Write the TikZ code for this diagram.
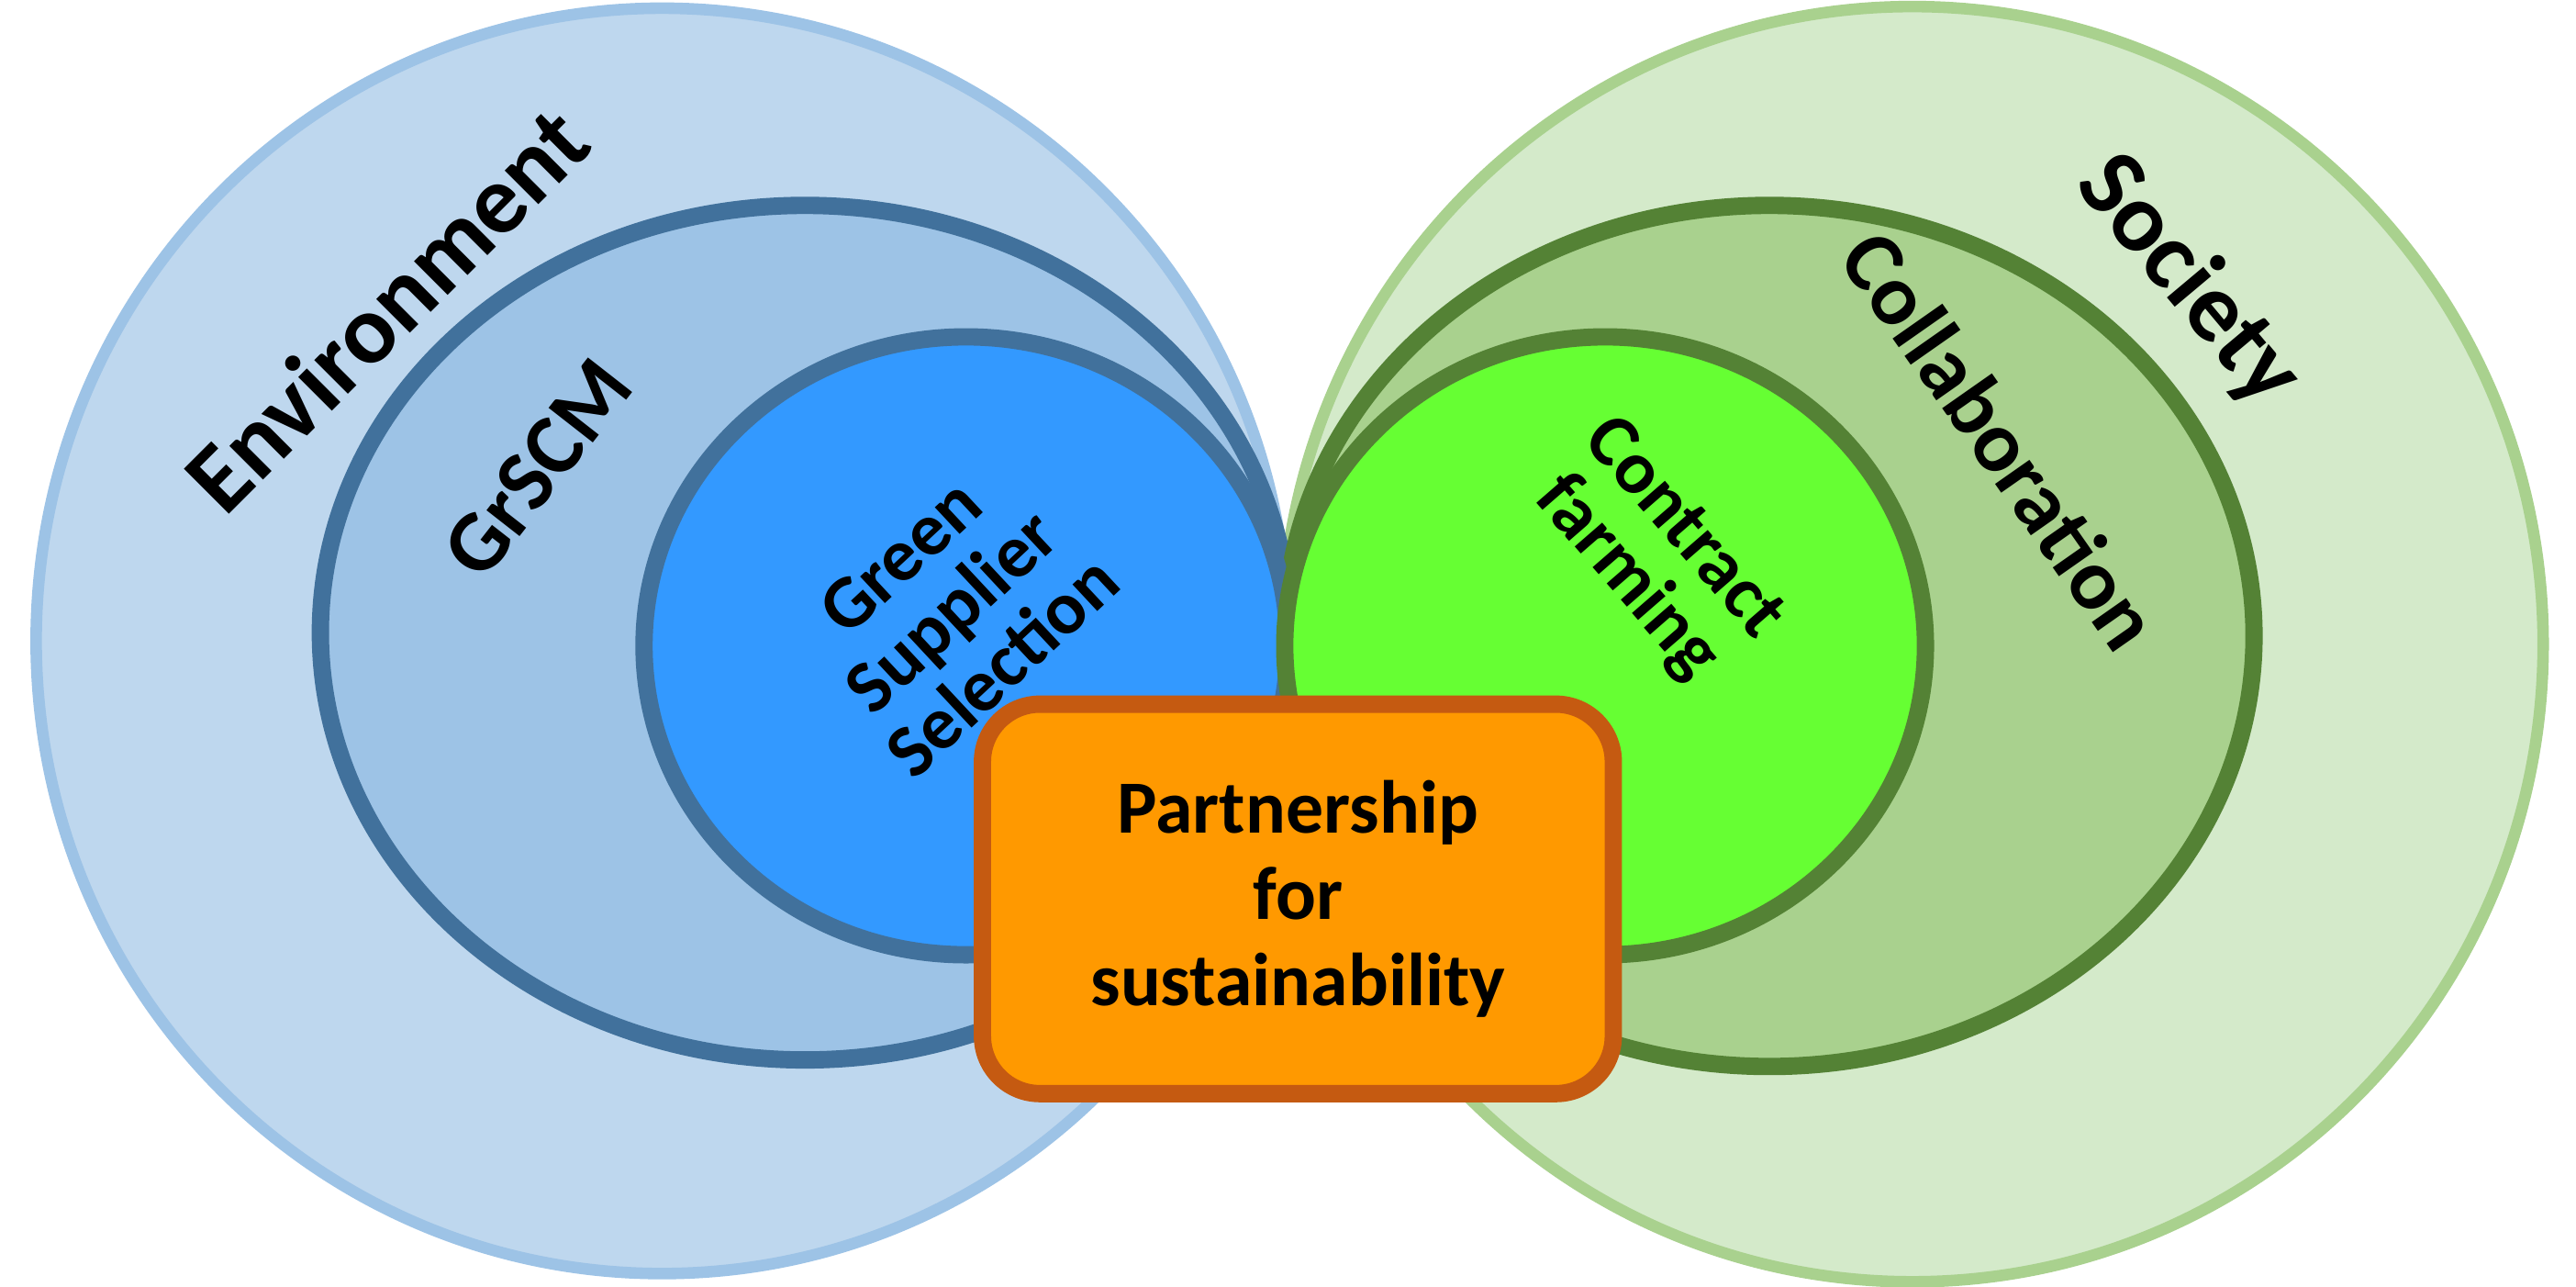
\documentclass[tikz,border=0pt]{standalone}
\usepackage{fontspec}
\setmainfont{Carlito}
\usetikzlibrary{shapes.geometric}
\definecolor{envfill}{RGB}{190,215,238}
\definecolor{envline}{RGB}{157,195,230}
\definecolor{scmfill}{RGB}{157,195,230}
\definecolor{blueline}{RGB}{65,113,156}
\definecolor{gssfill}{RGB}{51,153,255}
\definecolor{socfill}{RGB}{212,234,202}
\definecolor{socline}{RGB}{169,209,142}
\definecolor{colfill}{RGB}{169,209,142}
\definecolor{greenline}{RGB}{84,130,53}
\definecolor{cffill}{RGB}{102,255,51}
\definecolor{orfill}{RGB}{255,153,0}
\definecolor{orline}{RGB}{197,90,17}
\tikzset{
    ring/.style={ellipse, inner sep=0pt},
    label text/.style={font=\bfseries\fontsize{#1}{#1}\selectfont, align=center, text=black},
}

\begin{document}
\begin{tikzpicture}
    \useasboundingbox (0,0) rectangle (15.68,7.83);
    % outer circles
    \node[ring, fill=envfill, draw=envline, line width=2pt, minimum width=7.62cm, minimum height=7.7cm] (env) at (4.03,3.93) {};
    \node[ring, fill=socfill, draw=socline, line width=2pt, minimum width=7.68cm, minimum height=7.76cm] (soc) at (11.64,3.91) {};
    % middle circles
    \node[ring, fill=scmfill, draw=blueline, line width=3pt, minimum width=5.9cm, minimum height=5.2cm] (scm) at (4.90,3.98) {};
    \node[ring, fill=colfill, draw=greenline, line width=3pt, minimum width=5.9cm, minimum height=5.24cm] (col) at (10.77,3.96) {};
    % inner circles
    \node[ring, fill=gssfill, draw=blueline, line width=3pt, minimum width=3.92cm, minimum height=3.76cm] (gss) at (5.88,3.90) {};
    \node[ring, fill=cffill, draw=greenline, line width=3pt, minimum width=3.9cm, minimum height=3.76cm] (cf) at (9.77,3.90) {};
    % labels
    \node[label text=17pt, rotate=45] (envtext) at (2.35,5.95) {Environment};
    \node[label text=15pt, rotate=52] (scmtext) at (3.27,4.98) {GrSCM};
    \node[label text=13pt, rotate=43] (gsstext) at (5.79,4.11) {Green\\Supplier\\Selection};
    \node[label text=17pt, rotate=-50] (soctext) at (13.32,6.12) {Society};
    \node[label text=15pt, rotate=-55] (coltext) at (12.18,5.15) {Collaboration};
    \node[label text=13pt, rotate=-49] (cftext) at (10.07,4.46) {Contract\\farming};
    % centre box
    \node[fill=orfill, draw=orline, line width=3pt, rounded corners=0.35cm, minimum width=3.84cm, minimum height=2.37cm, label text=13pt] (box) at (7.90,2.36) {Partnership\\[2pt]for\\[2pt]sustainability};
\end{tikzpicture}
\end{document}
